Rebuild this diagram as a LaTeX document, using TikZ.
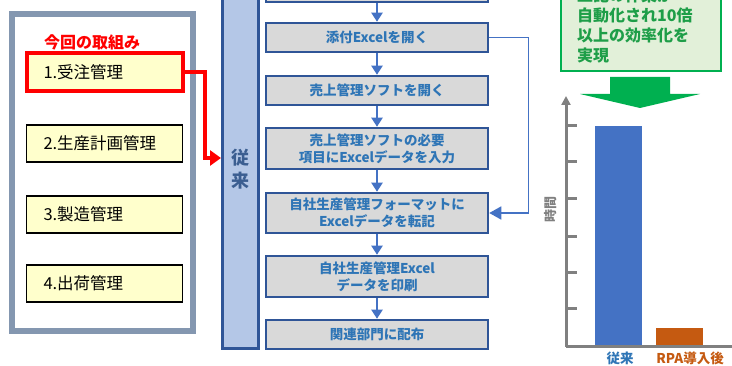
\documentclass[tikz,border=0pt]{standalone}
\usepackage{fontspec}
\setmainfont{Noto Sans CJK JP}
\usetikzlibrary{arrows.meta}
\definecolor{framec}{HTML}{8497B0}
\definecolor{yel}{HTML}{FFFFCC}
\definecolor{redc}{HTML}{FF0000}
\definecolor{barfill}{HTML}{B4C7E7}
\definecolor{darkb}{HTML}{2F5597}
\definecolor{boxg}{HTML}{D9D9D9}
\definecolor{txtb}{HTML}{2E75B6}
\definecolor{arrb}{HTML}{4472C4}
\definecolor{grn}{HTML}{00B050}
\definecolor{grntxt}{HTML}{1E9E48}
\definecolor{grnfill}{HTML}{E2F0D9}
\definecolor{axisg}{HTML}{808080}
\definecolor{orng}{HTML}{C55A11}
\definecolor{slate}{HTML}{3B5E91}
\tikzset{
  leftbox/.style={draw=black, line width=1.3pt, fill=yel, minimum width=156pt, inner xsep=17pt, text width=122pt, align=left, font=\fontsize{16.5pt}{19pt}\selectfont},
  flowbox/.style={draw=darkb, line width=2.5pt, fill=boxg, minimum width=222pt, inner sep=0pt, text=txtb, align=center, font=\bfseries\fontsize{13.5pt}{17pt}\selectfont},
  flowarr/.style={draw=arrb, line width=2pt, -{Triangle[length=9pt,width=11pt]}},
  sidearr/.style={draw=arrb, line width=1.5pt, -{Triangle[length=12pt,width=13pt]}},
  redarr/.style={draw=redc, line width=4pt, -{Triangle[length=11pt,width=15pt]}},
  axisline/.style={draw=axisg, line width=3pt},
}
\begin{document}
\begin{tikzpicture}[x=1pt,y=-1pt]
\useasboundingbox (0,0) rectangle (732,366);
\fill[white] (0,0) rectangle (732,366);
\begin{scope}
\clip (0,0) rectangle (732,366);
% left frame
\draw[draw=framec, line width=6pt] (12,14) rectangle (193,331);
\node[text=redc, font=\bfseries\fontsize{16pt}{18pt}\selectfont, anchor=west, inner sep=0pt] (title) at (44,42) {今回の取組み};
\node[leftbox, draw=redc, line width=4pt, minimum height=38pt] (b1) at (104.5,72) {1.受注管理};
\node[leftbox, minimum height=37pt] (b2) at (104.5,143.5) {2.生産計画管理};
\node[leftbox, minimum height=37pt] (b3) at (104.5,214.5) {3.製造管理};
\node[leftbox, minimum height=37pt] (b4) at (104.5,283.5) {4.出荷管理};
% vertical bar
\node[draw=darkb, line width=3pt, fill=barfill, minimum width=36pt, minimum height=359pt, inner sep=0pt, text=slate, align=center, font=\bfseries\fontsize{18pt}{23pt}\selectfont] (bar) at (240,169.5) {従\\来};
\coordinate (barin) at (221,158);
\draw[redarr] (b1.east) -- ++(20,0) |- (barin);
% flow boxes
\node[flowbox, minimum height=32pt] (f0) at (377,-14) {};
\node[flowbox, minimum height=29pt] (fa) at (377,37.5) {添付Excelを開く};
\node[flowbox, minimum height=29pt] (fb) at (377,90.5) {売上管理ソフトを開く};
\node[flowbox, minimum height=41pt] (fc) at (377,148.5) {売上管理ソフトの必要\\項目にExcelデータを入力};
\node[flowbox, minimum height=40pt] (fd) at (377,213) {自社生産管理フォーマットに\\Excelデータを転記};
\node[flowbox, minimum height=41pt] (fe) at (377,276.5) {自社生産管理Excel\\データを印刷};
\node[flowbox, minimum height=29pt] (ff) at (377,334.5) {関連部門に配布};
\draw[flowarr] (f0.south) -- (fa.north);
\draw[flowarr] (fa.south) -- (fb.north);
\draw[flowarr] (fb.south) -- (fc.north);
\draw[flowarr] (fc.south) -- (fd.north);
\draw[flowarr] (fd.south) -- (fe.north);
\draw[flowarr] (fe.south) -- (ff.north);
\draw[sidearr] (fa.east) -- ++(39,0) |- (fd.east);
% green box
\node[draw=grn, line width=2.5pt, fill=grnfill, minimum width=160pt, minimum height=121pt, inner sep=0pt] (gbox) at (641,10.5) {};
\node[anchor=west, align=left, inner sep=0pt, text=grntxt, font=\bfseries\fontsize{16pt}{20pt}\selectfont] (gtext) at (577,25) {上記の作業が\\自動化され10倍\\以上の効率化を\\実現};
% big green arrow
\fill[grn] (610,77) -- (670,77) -- (670,94) -- (700,94) -- (640,108) -- (580,94) -- (610,94) -- cycle;
% chart
\coordinate (origin) at (566,347);
\coordinate (ytop) at (566,96);
\coordinate (xend) at (732,347);
\fill[arrb] (595,126) rectangle (642,347);
\fill[orng] (656,328) rectangle (703,347);
\draw[axisline, -{Triangle[length=9pt,width=9pt]}] (origin) -- (ytop);
\draw[axisline] (origin) -- (xend);
\foreach \t in {126,162,199,237,273,309} \draw[axisline] (566,\t) -- (577,\t);
\node[text=txtb, font=\bfseries\fontsize{13.5pt}{16pt}\selectfont] (l1) at (620,358) {従来};
\node[text=orng, font=\bfseries\fontsize{13.5pt}{16pt}\selectfont] (l2) at (690,358) {RPA導入後};
\node[rotate=90, text=axisg, font=\bfseries\fontsize{13pt}{16pt}\selectfont] (yl) at (551,210) {時間};
\end{scope}
\end{tikzpicture}
\end{document}
